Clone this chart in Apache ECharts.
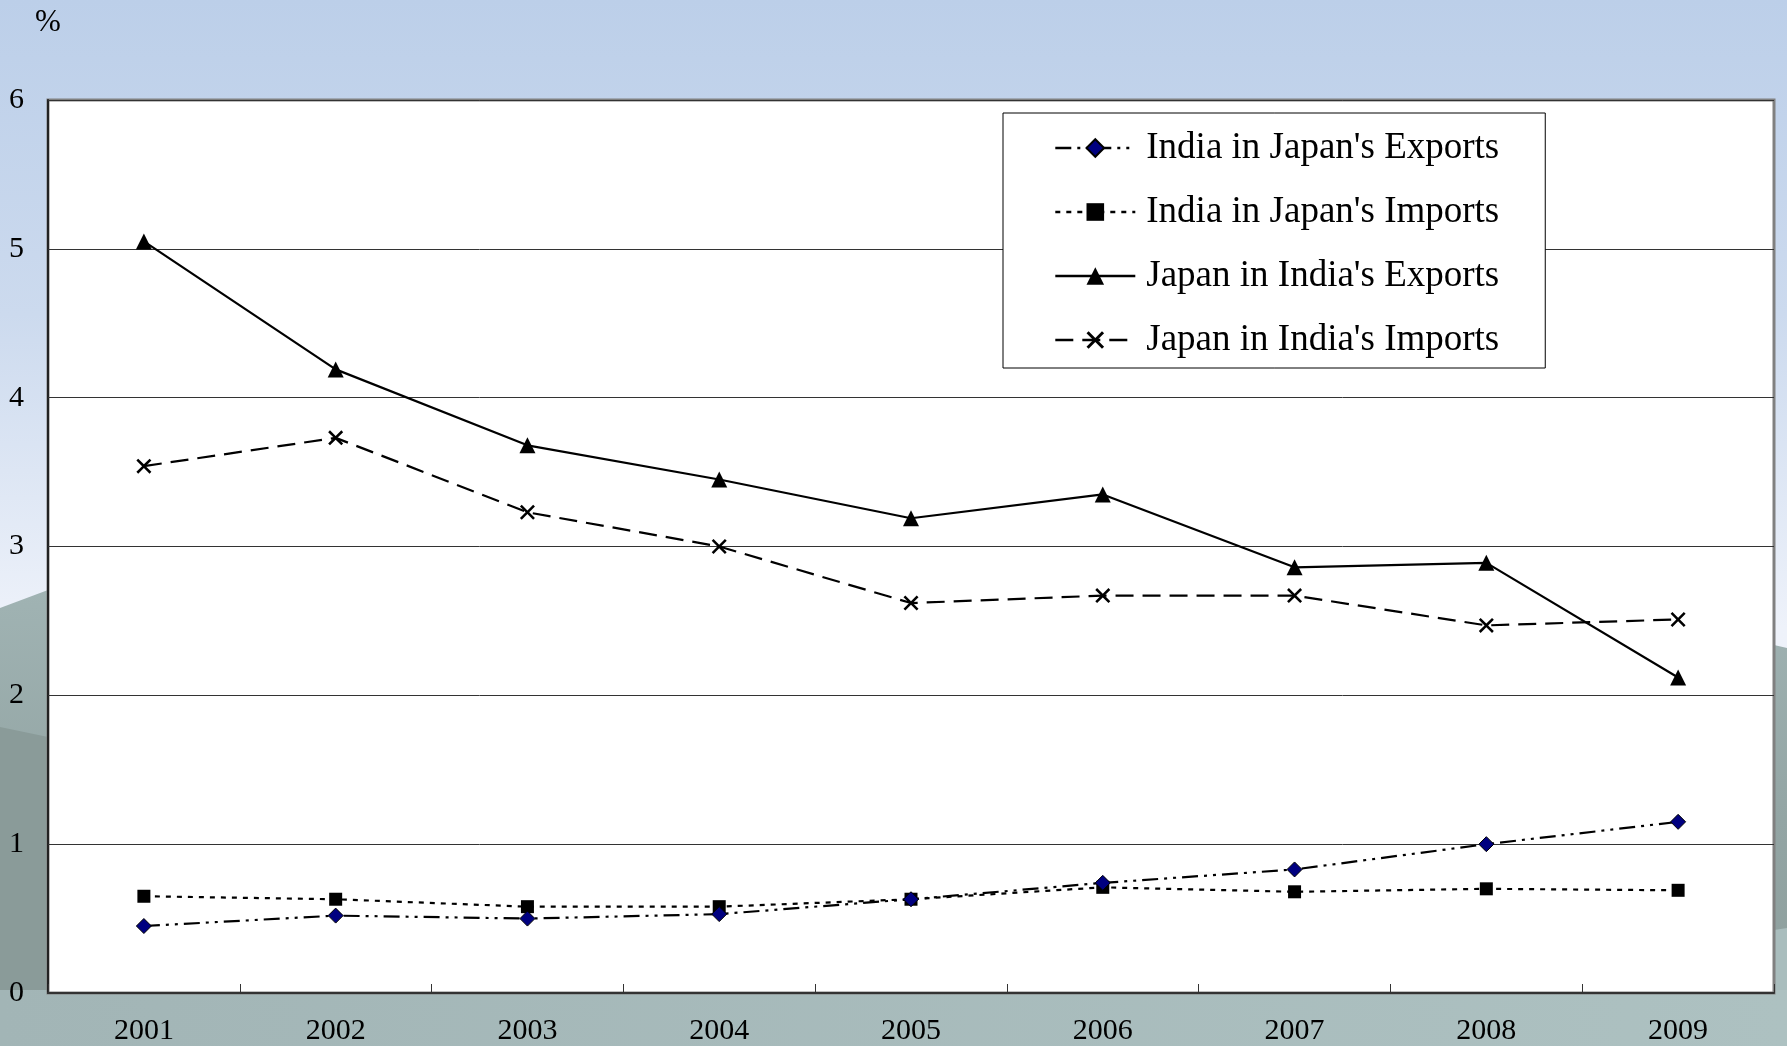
<!DOCTYPE html>
<html>
<head>
<meta charset="utf-8">
<script src="https://cdn.jsdelivr.net/npm/echarts@6/dist/echarts.min.js"></script>
<style>
html,body{margin:0;padding:0;width:1787px;height:1046px;overflow:hidden;background:#BED0EA;}
#chart{width:1787px;height:1046px;}
</style>
</head>
<body>
<div id="chart"></div>
<script>
// ---- data ----
const years = ['2001','2002','2003','2004','2005','2006','2007','2008','2009'];
const indiaInJapanExports = [0.45, 0.52, 0.50, 0.53, 0.63, 0.74, 0.83, 1.00, 1.15];
const indiaInJapanImports = [0.65, 0.63, 0.58, 0.58, 0.63, 0.71, 0.68, 0.70, 0.69];
const japanInIndiaExports = [5.05, 4.19, 3.68, 3.45, 3.19, 3.35, 2.86, 2.89, 2.12];
const japanInIndiaImports = [3.54, 3.73, 3.23, 3.00, 2.62, 2.67, 2.67, 2.47, 2.51];
const seriesNames = ["India in Japan's Exports", "India in Japan's Imports", "Japan in India's Exports", "Japan in India's Imports"];
const yTicks = [0, 1, 2, 3, 4, 5, 6];

const FONT = '"Liberation Serif", "Times New Roman", serif';
const xSymbol = 'path://M0,1.2 L1.2,0 L5,3.8 L8.8,0 L10,1.2 L6.2,5 L10,8.8 L8.8,10 L5,6.2 L1.2,10 L0,8.8 L3.8,5 Z';

const chart = echarts.init(document.getElementById('chart'), null, {renderer: 'canvas'});

const option = {
  backgroundColor: 'transparent',
  animation: false,
  graphic: [
    {type: 'rect', z: -100, shape: {x: 0, y: 0, width: 1787, height: 1046},
     style: {fill: new echarts.graphic.LinearGradient(0, 0, 0, 1, [
       {offset: 0, color: '#BCCFE9'}, {offset: 0.3, color: '#CCDAEE'}, {offset: 0.6, color: '#EEF2FA'}, {offset: 1, color: '#F2F5FB'}])}},
    {type: 'polygon', z: -99, shape: {points: [[0,608],[48,590],[1774,645],[1787,648],[1787,1046],[0,1046]]},
     style: {fill: new echarts.graphic.LinearGradient(0, 0, 0, 1, [
       {offset: 0, color: '#A0B3B3'}, {offset: 0.5, color: '#93A5A4'}, {offset: 1, color: '#8C9D9B'}])}},
    {type: 'polygon', z: -98, shape: {points: [[0,727],[48,737],[48,1046],[0,1046]]},
     style: {fill: '#8A9B99'}},
    {type: 'polygon', z: -98, shape: {points: [[1774,930],[1787,928],[1787,1046],[1774,1046]]},
     style: {fill: '#A9BDBD'}},
    {type: 'rect', z: -97, shape: {x: 0, y: 990, width: 1787, height: 56},
     style: {fill: new echarts.graphic.LinearGradient(0, 0, 1, 0, [
       {offset: 0, color: '#A2B5B6'}, {offset: 1, color: '#ADC1C1'}])}}
  ],
  grid: {
    left: 48, right: 13, top: 100, bottom: 52,
    show: true, backgroundColor: '#FFFFFF', borderColor: '#808080', borderWidth: 3
  },
  legend: {
    orient: 'vertical',
    left: 1003, top: 113,
    padding: [16, 46, 9, 51],
    backgroundColor: '#FFFFFF',
    borderColor: '#000000', borderWidth: 1,
    itemWidth: 80, itemHeight: 22, itemGap: 26,
    lineStyle: {width: 2.6},
    textStyle: {fontFamily: FONT, fontSize: 37, color: '#000', lineHeight: 38, padding: [0, 0, 0, 6]},
    data: seriesNames
  },
  xAxis: {
    type: 'category',
    data: years,
    boundaryGap: true,
    axisLine: {show: true, lineStyle: {color: '#333333', width: 2}},
    axisTick: {show: true, inside: true, length: 9, lineStyle: {color: '#333', width: 1}},
    axisLabel: {fontFamily: FONT, fontSize: 30, color: '#000', margin: 23},
    splitLine: {show: false}
  },
  yAxis: {
    type: 'value',
    min: yTicks[0], max: yTicks[yTicks.length - 1], interval: 1,
    name: '%',
    nameLocation: 'end',
    nameGap: 77,
    nameTextStyle: {fontFamily: FONT, fontSize: 31, color: '#000', align: 'center', verticalAlign: 'middle'},
    axisLine: {show: true, lineStyle: {color: '#222222', width: 2}},
    axisTick: {show: true, inside: true, length: 8, lineStyle: {color: '#333', width: 1}},
    axisLabel: {fontFamily: FONT, fontSize: 30, color: '#000', margin: 24},
    splitLine: {show: true, lineStyle: {color: '#333333', width: 1}}
  },
  series: [
    {
      name: seriesNames[0], type: 'line', data: indiaInJapanExports,
      symbol: 'diamond', symbolSize: 15,
      itemStyle: {color: '#000080', borderColor: '#000', borderWidth: 1},
      lineStyle: {color: '#000', width: 2.2, type: [16, 6, 3, 6, 3, 6]},
      z: 3
    },
    {
      name: seriesNames[1], type: 'line', data: indiaInJapanImports,
      symbol: 'rect', symbolSize: 13,
      itemStyle: {color: '#000'},
      lineStyle: {color: '#000', width: 2.2, type: [5, 6]},
      z: 2
    },
    {
      name: seriesNames[2], type: 'line', data: japanInIndiaExports,
      symbol: 'triangle', symbolSize: 16,
      itemStyle: {color: '#000'},
      lineStyle: {color: '#000', width: 2.2, type: 'solid'},
      z: 4
    },
    {
      name: seriesNames[3], type: 'line', data: japanInIndiaImports,
      symbol: xSymbol, symbolSize: 15,
      itemStyle: {color: '#000'},
      lineStyle: {color: '#000', width: 2.2, type: [18, 9]},
      z: 3
    }
  ]
};
chart.setOption(option);
</script>
</body>
</html>
